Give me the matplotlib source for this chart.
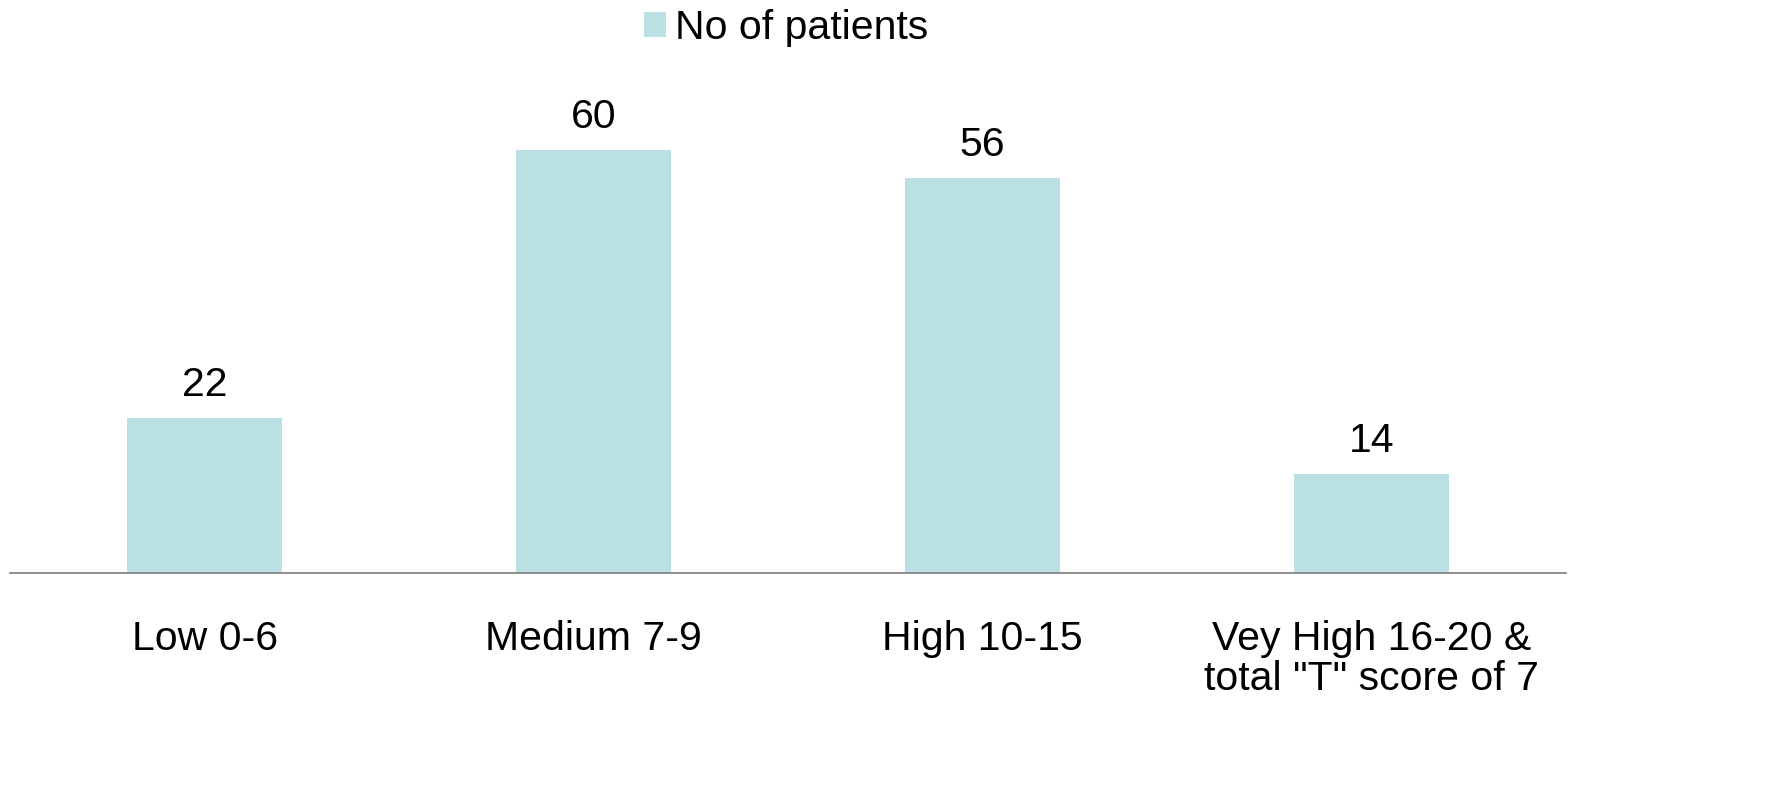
import matplotlib.pyplot as plt
import numpy as np

# Data
categories = ["Low 0-6", "Medium 7-9", "High 10-15", "Vey High 16-20 &\ntotal \"T\" score of 7"]
patients = [22, 60, 56, 14]
series_name = "No of patients"

plt.rcParams['font.family'] = ['Liberation Sans', 'DejaVu Sans']

W, H = 1785, 799
fig = plt.figure(figsize=(W / 100, H / 100), dpi=100)
ax = fig.add_axes([10 / W, (H - 573) / H, 1556 / W, (573 - 79.5) / H])

bar_color = "#BBE0E3"
x = np.arange(len(categories))
bars = ax.bar(x, patients, width=0.4, color=bar_color, label=series_name)

for b, v in zip(bars, patients):
    ax.text(b.get_x() + b.get_width() / 2, v + 2, str(v),
            ha="center", va="bottom", fontsize=29.5, color="#000000")

ax.set_xlim(-0.5, 3.5)
ax.set_ylim(0, 70)
ax.set_xticks(x)
ax.set_xticklabels(categories, fontsize=29.5, linespacing=1.05, va="top")
ax.tick_params(axis="x", length=0, pad=34)
ax.set_yticks([])

for s in ["top", "right", "left"]:
    ax.spines[s].set_visible(False)
ax.spines["bottom"].set_color("#868686")
ax.spines["bottom"].set_linewidth(1.3)

fig.legend(loc="upper center", bbox_to_anchor=(786 / W, 1.0 - 5 / H), frameon=False,
           fontsize=29.5, handlelength=0.55, handleheight=0.55, handletextpad=0.22,
           borderaxespad=0.0, borderpad=0.1)

plt.savefig("out.png", dpi=100)
